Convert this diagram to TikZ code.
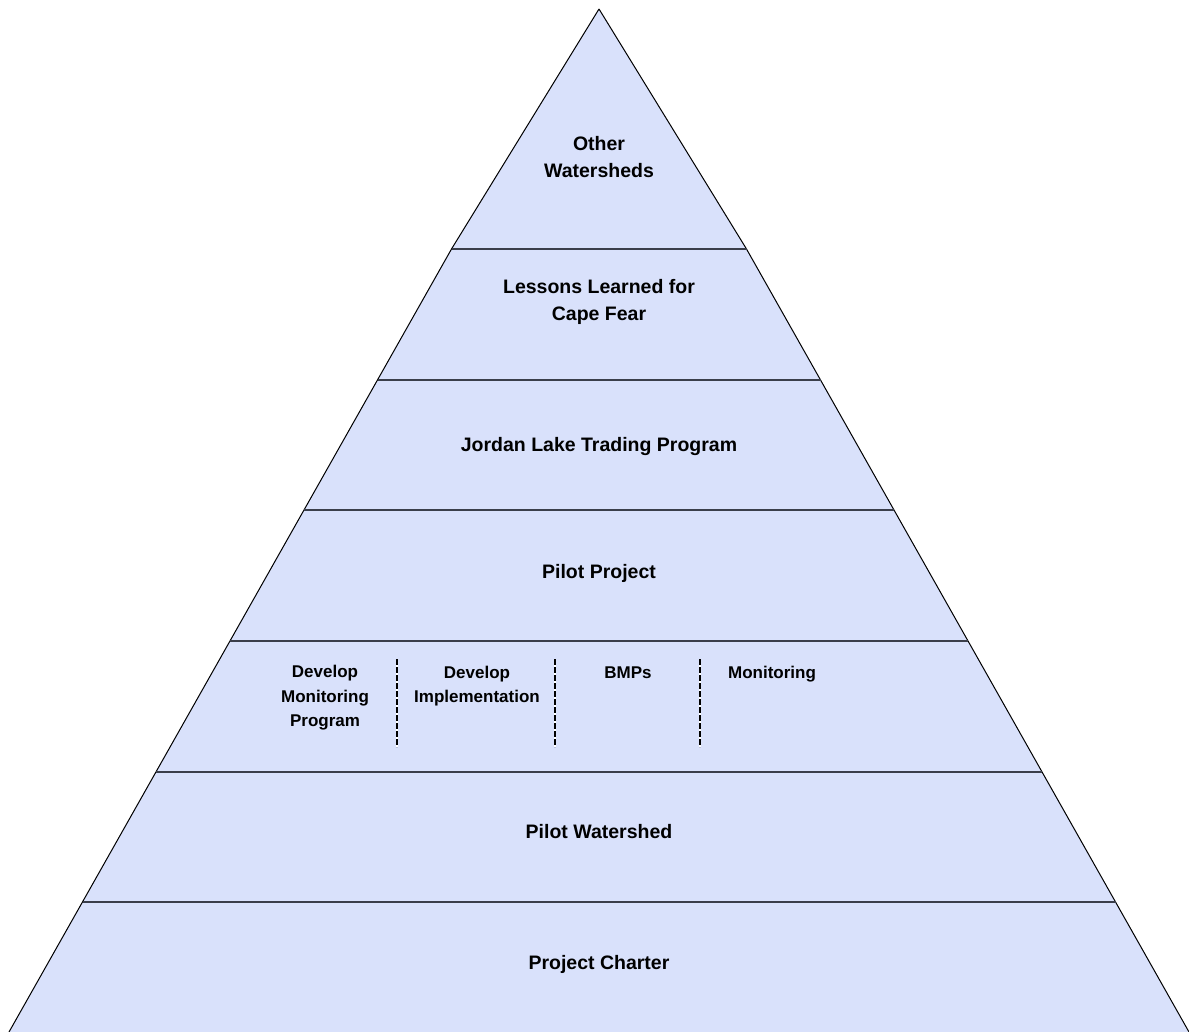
\documentclass[tikz,border=0pt]{standalone}
\usepackage{fontspec}
\setmainfont{Liberation Sans}
\definecolor{bandfill}{RGB}{217,225,251}
\definecolor{sepline}{RGB}{58,62,74}
\begin{document}
\begin{tikzpicture}[x=1pt,y=-1pt,
  outline/.style={draw=black,line width=1pt},
  sep/.style={draw=sepline,line width=2.2pt},
  biglabel/.style={font=\fontsize{19.5}{27}\selectfont\bfseries,align=center,inner sep=0pt,text=black},
  smalllabel/.style={font=\fontsize{17}{24.5}\selectfont\bfseries,align=center,inner sep=0pt,text=black},
  divider/.style={draw=black,line width=2pt,dash pattern=on 6pt off 2pt}]
\useasboundingbox (0,0) rectangle (1189,1032);
% coordinates of pyramid corners
\coordinate (apex) at (599,9);
\coordinate (L0) at (451.5,249); \coordinate (R0) at (746.5,249);
\coordinate (L1) at (377.5,380); \coordinate (R1) at (820.5,380);
\coordinate (L2) at (304,510);   \coordinate (R2) at (894,510);
\coordinate (L3) at (230,641);   \coordinate (R3) at (968,641);
\coordinate (L4) at (156,772);   \coordinate (R4) at (1042,772);
\coordinate (L5) at (82.5,902);  \coordinate (R5) at (1115.5,902);
\coordinate (L6) at (9,1032);    \coordinate (R6) at (1189,1032);
% fills
\fill[bandfill] (apex) -- (R0) -- (R6) -- (L6) -- (L0) -- cycle;
% outline
\draw[outline] (apex) -- (R0) -- (R6);
\draw[outline] (apex) -- (L0) -- (L6);
\draw[outline] (L6) -- (R6);
% separators
\draw[draw=sepline,line width=1.3pt] (L0) -- (R0);
\draw[sep] (L1) -- (R1);
\draw[sep] (L2) -- (R2);
\draw[sep] (L3) -- (R3);
\draw[sep] (L4) -- (R4);
\draw[sep] (L5) -- (R5);
% dividers in the pilot project band
\foreach \n/\xx in {d1/397,d2/555,d3/700}{
  \coordinate (\n top) at (\xx,659);
  \coordinate (\n bot) at (\xx,747);
  \draw[white,line width=2pt] (\n top) -- (\n bot);
  \draw[divider] (\n top) -- (\n bot);
}
% labels
\node[biglabel] (other) at (599,157.5) {Other\\Watersheds};
\node[biglabel] (lessons) at (599,301.5) {Lessons Learned for\\Cape Fear};
\node[biglabel,anchor=base] (jordan) at (599,451) {Jordan Lake Trading Program};
\node[biglabel,anchor=base] (pilotproj) at (599,578) {Pilot Project};
\node[smalllabel] (devmon) at (325,698) {Develop\\Monitoring\\Program};
\node[smalllabel] (devimp) at (477,686) {Develop\\Implementation};
\node[smalllabel,anchor=base] (bmps) at (628,678) {BMPs};
\node[smalllabel,anchor=base] (monit) at (772,678) {Monitoring};
\node[biglabel,anchor=base] (pilotws) at (599,838) {Pilot Watershed};
\node[biglabel,anchor=base] (charter) at (599,969) {Project Charter};
\end{tikzpicture}
\end{document}
